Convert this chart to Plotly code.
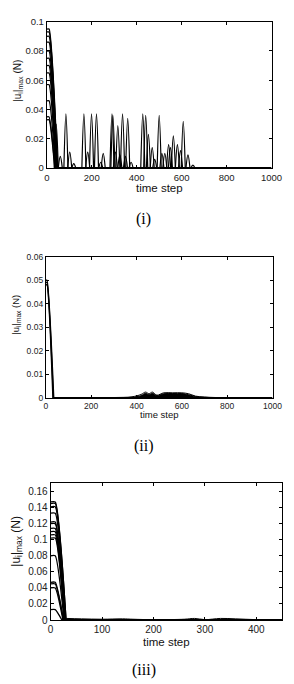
import plotly.graph_objects as go

# ---------------- Data ----------------
# Panel (i): initial decay curves (start height, time where they reach 0)
init_h_i = [0.095, 0.093, 0.090, 0.086, 0.080, 0.075, 0.070, 0.065, 0.057, 0.046, 0.035, 0.033]
init_end_i = [48, 47, 46, 45, 44, 43, 42, 41, 40, 38, 36, 35]
# Panel (i): spikes (time, height)
spike_t_i = [42, 60, 85, 102, 120, 165, 182, 199, 221, 240, 251, 290, 294, 305, 316, 325,
             337, 350, 360, 375, 427, 440, 452, 469, 480, 500, 512, 525, 542, 550, 563,
             581, 595, 607, 628, 650]
spike_h_i = [0.030, 0.008, 0.037, 0.011, 0.003, 0.037, 0.011, 0.037, 0.037, 0.004, 0.010,
             0.037, 0.036, 0.011, 0.029, 0.009, 0.037, 0.008, 0.034, 0.004, 0.037, 0.036,
             0.023, 0.014, 0.006, 0.036, 0.010, 0.010, 0.016, 0.014, 0.022, 0.016, 0.012,
             0.032, 0.009, 0.002]

# Panel (ii)
init_h_ii = [0.050, 0.049, 0.048]
init_end_ii = [35, 33, 31]
bump_t_ii = [200, 300, 380, 420, 440, 455, 470, 490, 520, 560, 600, 630, 660, 700, 750, 800]
bump_y_ii = [0, 0.0002, 0.0005, 0.0015, 0.0025, 0.0018, 0.0025, 0.0012, 0.0022, 0.0022,
             0.0022, 0.0018, 0.0008, 0.0004, 0.0002, 0]
bump_y2_ii = [0, 0.0001, 0.0003, 0.0010, 0.0020, 0.0014, 0.0020, 0.0010, 0.0018, 0.0019,
              0.0019, 0.0014, 0.0006, 0.0003, 0.0001, 0]

# Panel (iii)
init_h_iii = [0.147, 0.145, 0.141, 0.133, 0.122, 0.120, 0.114, 0.110, 0.106, 0.102,
              0.080, 0.047, 0.045, 0.040, 0.013]
init_end_iii = [30, 30, 29, 29, 28, 28, 28, 28, 27, 27, 26, 25, 25, 24, 22]
noise_t_iii = [30, 60, 100, 140, 160, 200, 260, 280, 300, 330, 360, 400, 450]
noise_y_iii = [0.002, 0.0015, 0.001, 0.0015, 0.001, 0.0005, 0.001, 0.002, 0.0005, 0.002,
               0.0015, 0.0005, 0.0003]

x_max = [1000, 1000, 450]
y_max = [0.1, 0.06, 0.17]
y_dtick = [0.02, 0.01, 0.02]
x_dtick = [200, 200, 100]
captions = ["(i)", "(ii)", "(iii)"]

# ---------------- Layout geometry ----------------
W, H = 294, 684
px_x = [(46, 282), (45, 283), (50, 293)]
px_y = [(16, 165), (255, 399), (486, 625)]
cap_y = [217, 448, 676]
ytitle_x = [15, 14, 15]
ytitle_y = [76, 314, 545]
xtitle_y = [185, 416, 647]
tick_size = [9.5, 8.5, 10]
ytitle_size = [10, 9.5, 12]
xtitle_size = [11.5, 9.5, 11.5]

fig = go.Figure()

def add_decay(k, heights, ends, flat):
    for h, e in zip(heights, ends):
        fig.add_trace(go.Scatter(
            x=[0, flat, e], y=[h, h, 0],
            mode="lines", line=dict(color="black", width=1.3, shape="spline", smoothing=0.5),
            xaxis=f"x{k+1}", yaxis=f"y{k+1}", showlegend=False, hoverinfo="skip"))
    # all curves settle on zero: thick baseline
    fig.add_trace(go.Scatter(
        x=[min(ends), x_max[k]], y=[0, 0], mode="lines",
        line=dict(color="black", width=2.2),
        xaxis=f"x{k+1}", yaxis=f"y{k+1}", showlegend=False, hoverinfo="skip"))

# Panel (i)
add_decay(0, init_h_i, init_end_i, 10)
for t, h in zip(spike_t_i, spike_h_i):
    fig.add_trace(go.Scatter(
        x=[t - 9, t, t + 9], y=[0, h, 0], mode="lines",
        line=dict(color="black", width=1.2, shape="spline", smoothing=1.0),
        xaxis="x1", yaxis="y1", showlegend=False, hoverinfo="skip"))

# Panel (ii)
add_decay(1, init_h_ii, init_end_ii, 5)
fig.add_trace(go.Scatter(x=bump_t_ii, y=bump_y2_ii, mode="lines", fill="tozeroy",
                         fillcolor="black", line=dict(color="black", width=1, shape="spline"),
                         xaxis="x2", yaxis="y2", showlegend=False, hoverinfo="skip"))
fig.add_trace(go.Scatter(x=bump_t_ii, y=bump_y_ii, mode="lines",
                         line=dict(color="black", width=1, shape="spline"),
                         xaxis="x2", yaxis="y2", showlegend=False, hoverinfo="skip"))

# Panel (iii)
add_decay(2, init_h_iii, init_end_iii, 9)
fig.add_trace(go.Scatter(x=noise_t_iii, y=noise_y_iii, mode="lines",
                         line=dict(color="black", width=1, shape="spline"),
                         xaxis="x3", yaxis="y3", showlegend=False, hoverinfo="skip"))

SANS = "Liberation Sans, Arial, sans-serif"
layout = dict(width=W, height=H, margin=dict(l=0, r=0, t=0, b=0),
              paper_bgcolor="white", plot_bgcolor="white", showlegend=False)
annotations = []
for k in range(3):
    xd = [px_x[k][0] / W, px_x[k][1] / W]
    yd = [1 - px_y[k][1] / H, 1 - px_y[k][0] / H]
    tf = dict(family=SANS, size=tick_size[k], color="#222")
    common = dict(showline=True, linecolor="black", linewidth=1, mirror="ticks",
                  ticks="inside", ticklen=3, tickcolor="black", showgrid=False,
                  zeroline=False, tickfont=tf, ticklabelstandoff=0)
    layout[f"xaxis{k+1}"] = dict(domain=xd, anchor=f"y{k+1}", range=[0, x_max[k]],
                                 dtick=x_dtick[k], tick0=0, **common)
    layout[f"yaxis{k+1}"] = dict(domain=yd, anchor=f"x{k+1}", range=[0, y_max[k]],
                                 dtick=y_dtick[k], tick0=0, **common)
    annotations.append(dict(
        x=ytitle_x[k] / W, y=1 - ytitle_y[k] / H, xref="paper", yref="paper",
        xanchor="center", yanchor="middle",
        text="|u<sub>i</sub>|<sub>max</sub> (N)", textangle=-90, showarrow=False,
        font=dict(family=SANS, size=ytitle_size[k], color="#111")))
    annotations.append(dict(
        x=(px_x[k][0] + px_x[k][1]) / 2 / W, y=1 - xtitle_y[k] / H, xref="paper", yref="paper",
        xanchor="center", yanchor="middle",
        text="time step", showarrow=False,
        font=dict(family=SANS, size=xtitle_size[k], color="#111")))
    annotations.append(dict(
        x=148 / W, y=1 - cap_y[k] / H, xref="paper", yref="paper",
        xanchor="center", yanchor="middle",
        text=captions[k], showarrow=False,
        font=dict(family="Liberation Serif, Times New Roman, serif", size=16, color="black")))
layout["annotations"] = annotations
fig.update_layout(**layout)
fig.write_html("out.html")
